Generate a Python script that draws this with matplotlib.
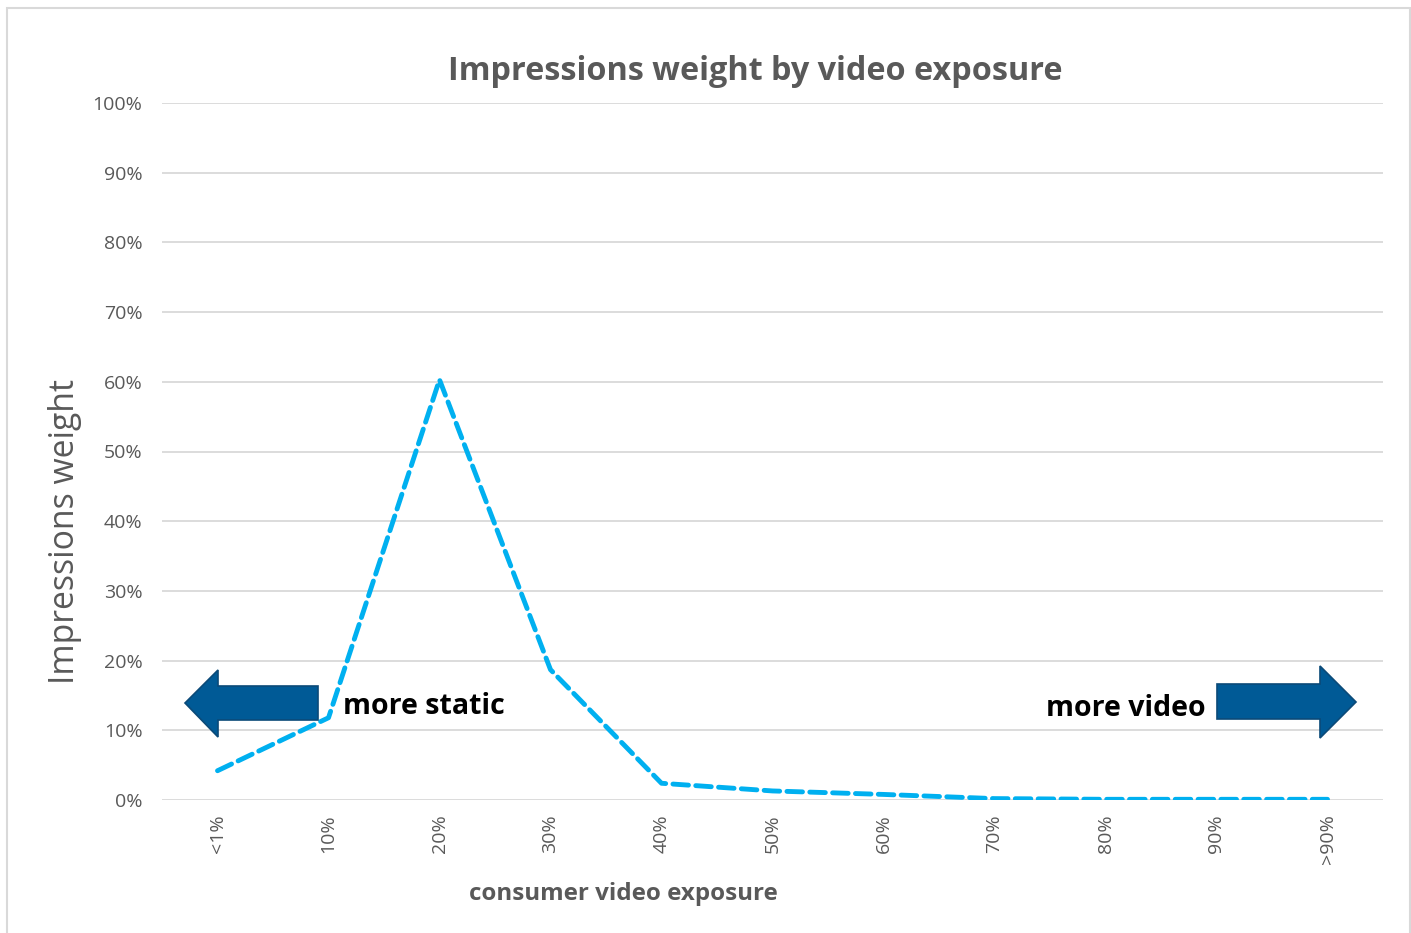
import matplotlib
matplotlib.use("Agg")
import matplotlib.pyplot as plt
from matplotlib.patches import Polygon, Rectangle
from matplotlib.ticker import PercentFormatter

plt.rcParams['font.family'] = ['Open Sans', 'DejaVu Sans']

# Share of impressions per bucket of consumer video exposure
categories = ["<1%", "10%", "20%", "30%", "40%", "50%", "60%", "70%", "80%", "90%", ">90%"]
weights = [4.2, 11.8, 60.3, 18.7, 2.4, 1.3, 0.8, 0.2, 0.1, 0.1, 0.1]
y_ticks = [0, 10, 20, 30, 40, 50, 60, 70, 80, 90, 100]

GRAY_TEXT = "#595959"
GRID = "#D9D9D9"
LINE = "#00B0F0"
ARROW = "#005A96"
ARROW_EDGE = "#0B4A78"

W, H = 1411, 933
fig = plt.figure(figsize=(W / 100, H / 100), dpi=100)

# Outer chart frame
fig.patches.append(Rectangle((7 / W, -0.01), (1410 - 7) / W, 1 - 8 / H + 0.01,
                             transform=fig.transFigure, fill=False,
                             edgecolor=GRID, linewidth=1.5))

ax = fig.add_axes([162 / W, 1 - 800 / H, (1383 - 162) / W, (800 - 103) / H])
x = list(range(len(categories)))
ax.plot(x, weights, color=LINE, linewidth=3.5, linestyle=(0, (3.2, 1.5)),
        solid_capstyle="round", dash_capstyle="round", zorder=3)

ax.set_xlim(-0.5, len(categories) - 0.5)
ax.set_ylim(0, 100)
ax.set_yticks(y_ticks)
ax.yaxis.set_major_formatter(PercentFormatter(decimals=0))
ax.set_xticks(x)
ax.set_xticklabels(categories, rotation=90)
ax.grid(axis="y", color=GRID, linewidth=1.3)
ax.set_axisbelow(True)
for s in ax.spines.values():
    s.set_visible(False)
ax.tick_params(axis="both", length=0, labelsize=14, labelcolor=GRAY_TEXT)
ax.tick_params(axis="y", pad=14)
ax.tick_params(axis="x", pad=10)

fig.text(755 / W, 1 - 72 / H, "Impressions weight by video exposure",
         ha="center", va="center", fontsize=23.3, fontweight="bold", color=GRAY_TEXT)
fig.text(65 / W, 1 - 531 / H, "Impressions weight", rotation=90,
         ha="center", va="center", fontsize=24.3, color=GRAY_TEXT)
fig.text(623 / W, 1 - 894 / H, "consumer video exposure",
         ha="center", va="center", fontsize=17.4, fontweight="bold", color=GRAY_TEXT)


def px_to_axes(px, py):
    return ((px - 162) / 1221, (800 - py) / 697)


left_arrow = [(185, 703), (218, 670), (218, 686), (318, 686), (318, 720),
              (218, 720), (218, 737)]
right_arrow = [(1356, 702), (1320, 666), (1320, 684), (1217, 684), (1217, 719),
               (1320, 719), (1320, 738)]
for shape in (left_arrow, right_arrow):
    ax.add_patch(Polygon([px_to_axes(*p) for p in shape], closed=True,
                         transform=ax.transAxes, facecolor=ARROW,
                         edgecolor=ARROW_EDGE, linewidth=1.2, zorder=4,
                         clip_on=False))

ax.text(*px_to_axes(343, 707), "more static", transform=ax.transAxes,
        ha="left", va="center", fontsize=20.5, fontweight="bold", color="black")
ax.text(*px_to_axes(1206, 709), "more video", transform=ax.transAxes,
        ha="right", va="center", fontsize=20.5, fontweight="bold", color="black")

fig.savefig("out.png", dpi=100, facecolor="white")
